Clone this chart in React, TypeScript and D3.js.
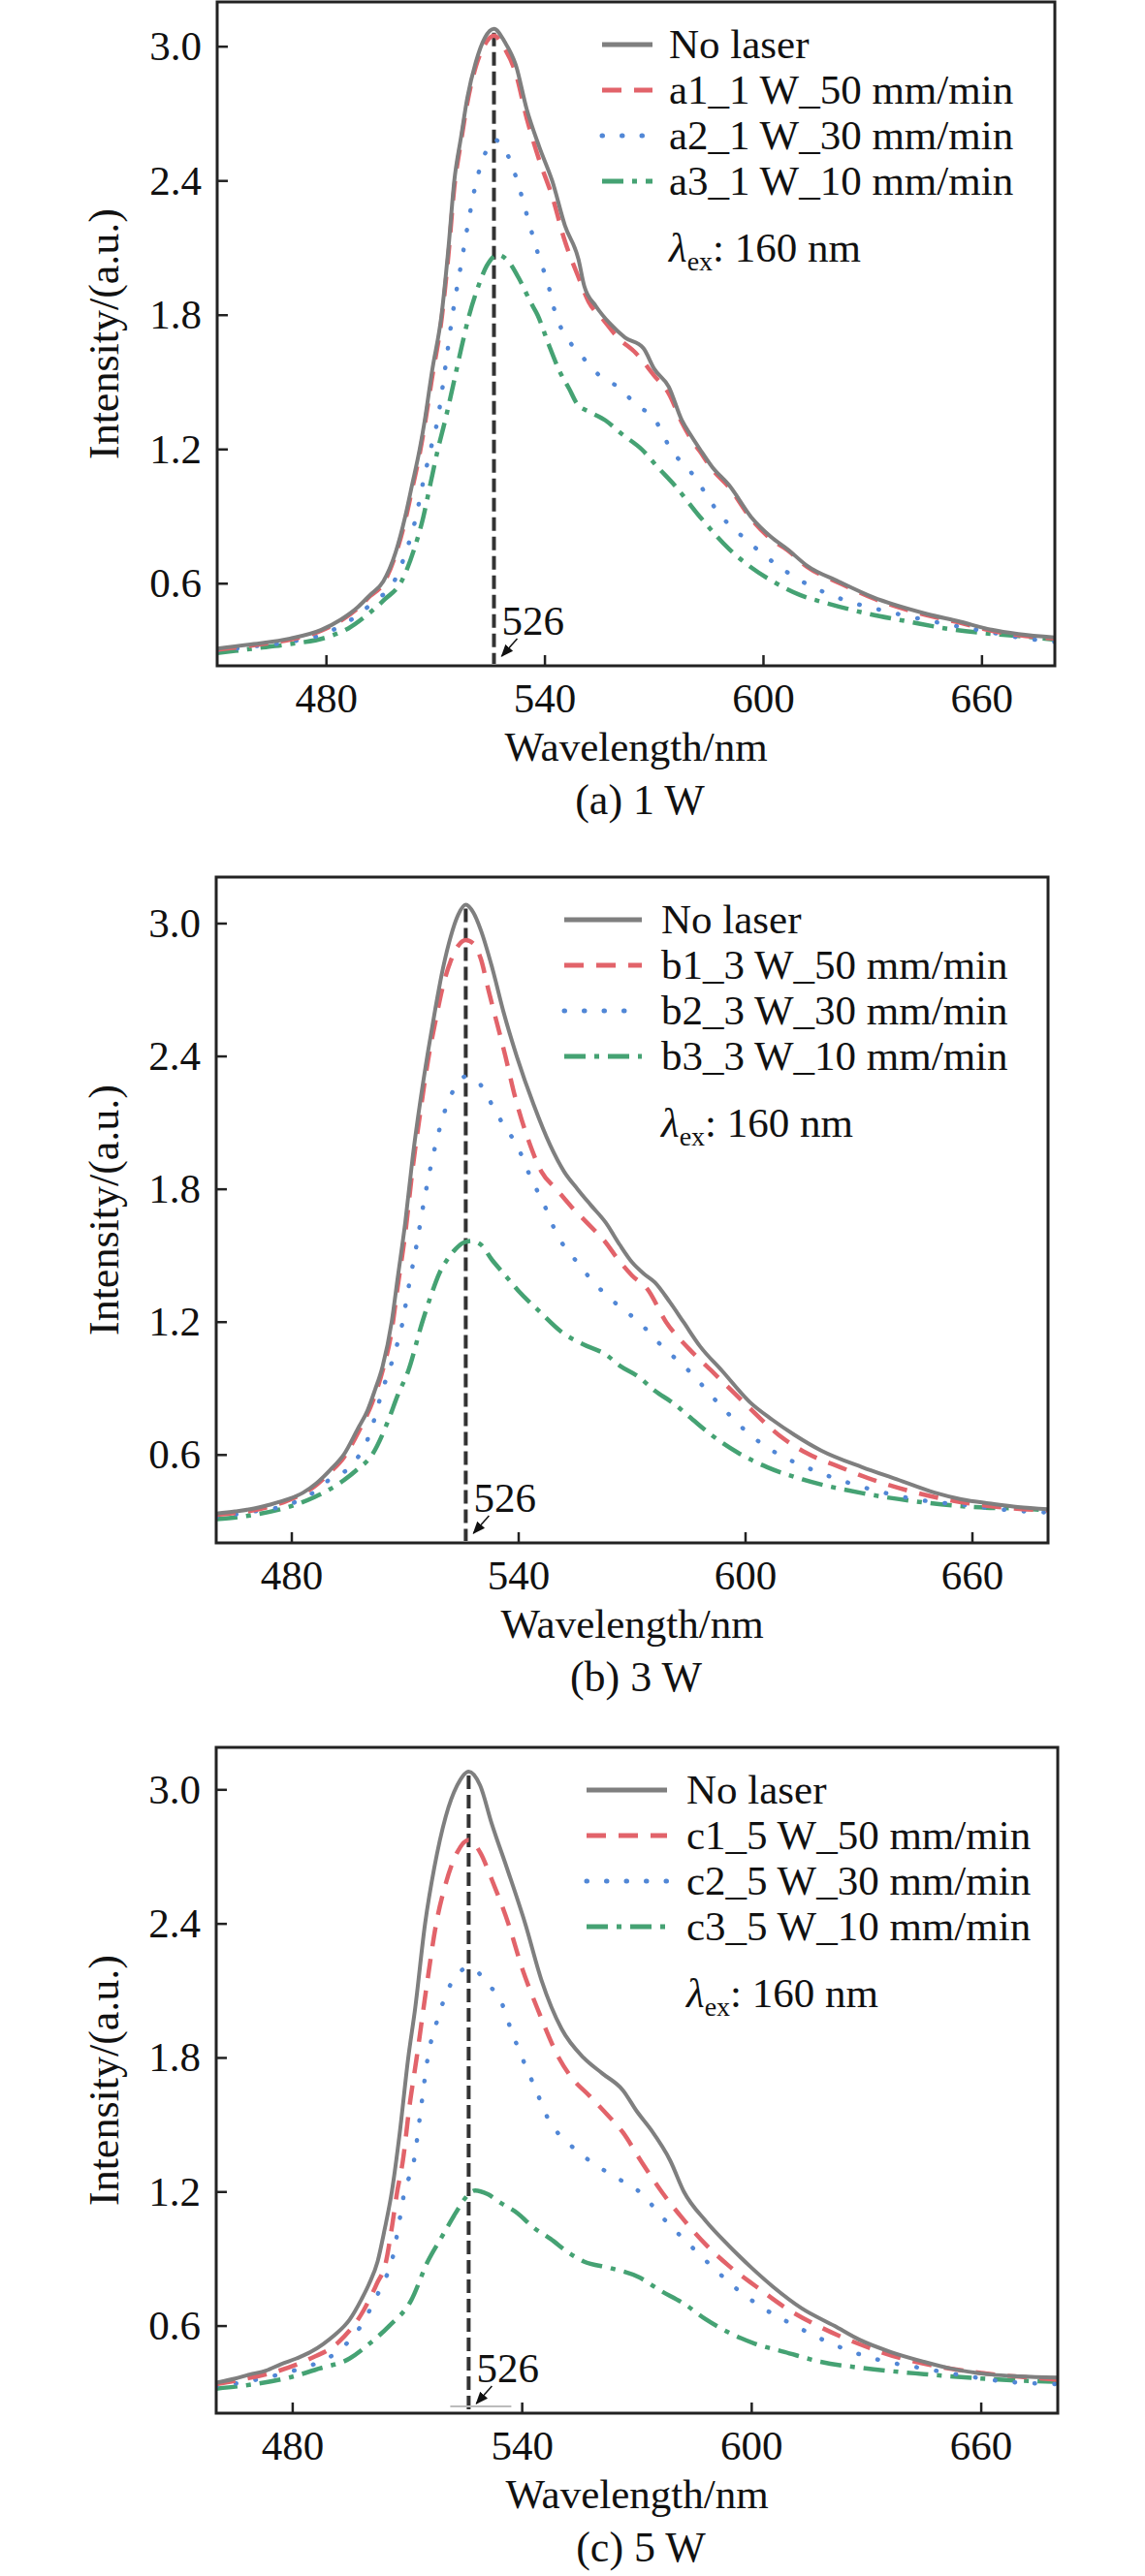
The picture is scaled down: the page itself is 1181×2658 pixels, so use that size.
import { useEffect, useRef } from "react";
import * as d3 from "d3";

type Pt = [number, number];

// tick values shared by the three panels
const xTicks = [480, 540, 600, 660];
const yTicks = [0.6, 1.2, 1.8, 2.4, 3.0];
const peakNm = 526;

// panel (a) 1 W
const aNoLaser: Pt[] = [
  [450, 0.31], [460, 0.33], [470, 0.355], [478.6, 0.394], [484, 0.44], [488.6, 0.495], [492, 0.55],
  [495.6, 0.61], [499, 0.74], [501.6, 0.898], [503.5, 1.04], [505.6, 1.2], [507, 1.33], [509, 1.55],
  [511.6, 1.8], [513.5, 2.1], [515.1, 2.4], [517, 2.6], [518.7, 2.773], [521, 2.93], [523.5, 3.04],
  [526, 3.08], [529, 3.02], [532, 2.918], [535, 2.72], [538.5, 2.55], [542, 2.4], [545.5, 2.2],
  [549.2, 2.05], [550.8, 1.93], [554, 1.84], [558, 1.76], [562, 1.7], [567, 1.653], [570, 1.56],
  [574, 1.48], [577.6, 1.33], [580, 1.265], [582.6, 1.2], [586, 1.12], [590.6, 1.04], [596.6, 0.898],
  [602, 0.81], [606.6, 0.754], [612, 0.68], [620.6, 0.61], [630, 0.54], [644.6, 0.466], [654, 0.43],
  [662.6, 0.394], [670, 0.375], [680, 0.36]
];
const a1: Pt[] = [
  [450, 0.305], [460, 0.325], [470, 0.35], [478.6, 0.39], [484, 0.435], [488.6, 0.49], [492, 0.545],
  [495.6, 0.6], [499, 0.73], [501.6, 0.88], [503.5, 1.02], [505.6, 1.18], [507, 1.31], [509, 1.52],
  [511.6, 1.78], [513.5, 2.07], [515.1, 2.37], [517, 2.58], [518.7, 2.75], [521, 2.91], [523.5, 3.01],
  [526, 3.05], [529, 2.99], [532, 2.88], [535, 2.68], [538.5, 2.49], [542, 2.33], [545.5, 2.13],
  [549.2, 1.97], [552, 1.86], [556, 1.78], [560, 1.7], [565, 1.63], [570, 1.53], [574, 1.45],
  [577.6, 1.32], [580, 1.25], [582.6, 1.19], [586, 1.11], [590.6, 1.03], [596.6, 0.89], [602, 0.8],
  [606.6, 0.75], [612, 0.675], [620.6, 0.605], [630, 0.535], [644.6, 0.46], [654, 0.425], [662.6, 0.39],
  [670, 0.37], [680, 0.355]
];
const a2: Pt[] = [
  [450, 0.3], [460, 0.32], [470, 0.34], [480, 0.38], [488.6, 0.46], [493, 0.52], [498.6, 0.61],
  [502, 0.75], [504.6, 0.898], [506.5, 1.05], [508.6, 1.2], [510.5, 1.33], [512.5, 1.55], [514.6, 1.8],
  [517, 2.03], [519, 2.22], [521.2, 2.4], [523.5, 2.52], [526, 2.585], [529, 2.54], [532.4, 2.4],
  [535, 2.25], [538, 2.08], [541, 1.93], [543, 1.8], [546, 1.7], [549.8, 1.623], [555, 1.53],
  [560.6, 1.473], [565, 1.4], [570, 1.338], [574.6, 1.2], [580, 1.1], [588.6, 0.898], [595, 0.8],
  [600, 0.73], [610.6, 0.61], [620, 0.54], [636.6, 0.466], [650, 0.42], [660, 0.39], [670, 0.36],
  [680, 0.34]
];
const a3: Pt[] = [
  [450, 0.29], [460, 0.31], [470, 0.33], [480, 0.36], [486, 0.4], [491.6, 0.466], [496, 0.53],
  [500.6, 0.61], [504, 0.75], [506.6, 0.898], [508.6, 1.05], [510.6, 1.2], [512.6, 1.33], [514.6, 1.473],
  [517, 1.65], [519.2, 1.8], [521.5, 1.92], [524, 2.02], [527, 2.07], [530, 2.04], [533, 1.96],
  [536, 1.86], [538, 1.8], [541, 1.67], [544, 1.55], [546.6, 1.473], [549, 1.4], [552, 1.37],
  [556.6, 1.33], [561, 1.27], [566.6, 1.2], [571, 1.12], [575.6, 1.04], [582.6, 0.898], [590.6, 0.754],
  [596, 0.68], [602.6, 0.61], [610, 0.55], [618, 0.51], [628.6, 0.466], [640, 0.43], [650, 0.4],
  [660, 0.38], [670, 0.366], [680, 0.35]
];

// panel (b) 3 W
const bNoLaser: Pt[] = [
  [460, 0.335], [465, 0.345], [469, 0.355], [474, 0.375], [479, 0.4], [483, 0.43], [486.5, 0.472],
  [490, 0.53], [493.8, 0.603], [497.5, 0.72], [500, 0.8], [502, 0.894], [504, 1.0], [506.4, 1.2],
  [508, 1.4], [510, 1.65], [512, 1.95], [514, 2.2], [516, 2.42], [518, 2.62], [520, 2.8], [522, 2.94],
  [524, 3.04], [526, 3.085], [528, 3.05], [530, 2.97], [533, 2.8], [536, 2.6], [539.5, 2.4],
  [544, 2.18], [548.3, 2.0], [552, 1.88], [555.6, 1.8], [559, 1.73], [563, 1.65], [566.7, 1.55],
  [570, 1.47], [573, 1.42], [576, 1.38], [580, 1.29], [583.6, 1.2], [588, 1.09], [593.8, 0.98],
  [601.3, 0.836], [607, 0.76], [613, 0.69], [620, 0.62], [630.8, 0.545], [640, 0.49], [650, 0.43],
  [657, 0.4], [665, 0.38], [672, 0.365], [680, 0.355]
];
const b1: Pt[] = [
  [460, 0.33], [470, 0.35], [479, 0.395], [486.5, 0.465], [490, 0.52], [493.8, 0.59], [497.5, 0.7],
  [502, 0.87], [504, 0.98], [506.4, 1.16], [508, 1.36], [510, 1.6], [512, 1.9], [514, 2.15],
  [516, 2.38], [518, 2.56], [520, 2.72], [522, 2.83], [524, 2.9], [526, 2.925], [528, 2.91],
  [530, 2.84], [532, 2.7], [536.5, 2.4], [539, 2.22], [542.4, 2.03], [546, 1.88], [550, 1.8],
  [554, 1.72], [558, 1.65], [563, 1.56], [566, 1.49], [570, 1.41], [574, 1.35], [579, 1.2],
  [585, 1.08], [591, 0.98], [600, 0.83], [608.8, 0.69], [616, 0.61], [625, 0.545], [635, 0.48],
  [645, 0.43], [652.8, 0.4], [662, 0.375], [670, 0.36], [680, 0.35]
];
const b2: Pt[] = [
  [460, 0.32], [470, 0.345], [479, 0.375], [486.5, 0.44], [490, 0.49], [495.3, 0.545], [500.5, 0.69],
  [504, 0.894], [507, 1.05], [509.3, 1.2], [510.8, 1.35], [513, 1.55], [515, 1.75], [518, 2.0],
  [521, 2.18], [524, 2.28], [526, 2.31], [528, 2.3], [530, 2.27], [533, 2.18], [536, 2.09],
  [539.5, 2.0], [543, 1.86], [547, 1.72], [550, 1.6], [555, 1.48], [561.5, 1.35], [566, 1.28],
  [571.8, 1.2], [578, 1.09], [585, 0.98], [593, 0.83], [601.3, 0.69], [608, 0.61], [616, 0.545],
  [630, 0.46], [645, 0.4], [660, 0.37], [670, 0.35], [680, 0.34]
];
const b3: Pt[] = [
  [460, 0.31], [470, 0.33], [480, 0.37], [486, 0.41], [492.4, 0.47], [497, 0.53], [501.2, 0.6],
  [505.6, 0.76], [508, 0.87], [510.8, 0.98], [514.5, 1.2], [517, 1.33], [519, 1.42], [521, 1.48],
  [523.3, 1.53], [525.5, 1.56], [527.5, 1.567], [530, 1.55], [533, 1.48], [536.5, 1.41], [540, 1.34],
  [545.4, 1.25], [551.3, 1.156], [557, 1.1], [563, 1.054], [567, 1.0], [571.8, 0.952], [576, 0.89],
  [580.7, 0.836], [586, 0.76], [591, 0.69], [598, 0.61], [605.7, 0.545], [615, 0.49], [630.8, 0.428],
  [645, 0.39], [660, 0.365], [675, 0.356], [680, 0.35]
];

// panel (c) 5 W
const cNoLaser: Pt[] = [
  [460, 0.347], [465, 0.365], [468.7, 0.383], [473, 0.4], [477, 0.43], [481, 0.455], [484.7, 0.484],
  [488, 0.52], [491, 0.56], [494.9, 0.629], [498, 0.72], [500, 0.79], [502.2, 0.889], [504, 1.03],
  [505.9, 1.2], [508, 1.467], [510.2, 1.8], [512, 2.02], [514.6, 2.4], [517, 2.65], [520, 2.88],
  [523, 3.02], [526, 3.082], [529, 3.02], [532, 2.85], [536, 2.65], [540.8, 2.4], [545, 2.15],
  [550.3, 1.93], [556.1, 1.8], [561, 1.73], [566.3, 1.656], [570, 1.56], [573.6, 1.48], [578.7, 1.34],
  [582.3, 1.2], [588, 1.07], [594, 0.96], [600, 0.86], [605.7, 0.774], [613, 0.68], [621.7, 0.6],
  [628, 0.54], [636.3, 0.484], [645, 0.44], [652, 0.41], [662.6, 0.383], [670, 0.375], [680, 0.369]
];
const c1: Pt[] = [
  [460, 0.34], [468, 0.365], [476, 0.398], [484, 0.45], [492, 0.528], [498.6, 0.672], [502, 0.79],
  [504.4, 0.889], [506, 1.05], [507.3, 1.2], [508.8, 1.34], [510.5, 1.58], [512.4, 1.8], [515, 2.12],
  [517.5, 2.4], [520, 2.58], [523, 2.72], [526, 2.776], [529, 2.72], [532, 2.6], [536.4, 2.4],
  [540, 2.2], [544, 2.02], [549.6, 1.8], [553, 1.71], [557.6, 1.63], [562, 1.55], [566.3, 1.467],
  [571, 1.34], [576.5, 1.2], [582, 1.08], [588.2, 0.961], [594, 0.87], [601.4, 0.774], [609, 0.68],
  [617.4, 0.6], [628, 0.52], [639.2, 0.455], [650, 0.415], [660, 0.39], [672.7, 0.369], [680, 0.36]
];
const c2: Pt[] = [
  [460, 0.33], [468.7, 0.354], [478, 0.39], [484, 0.42], [489.1, 0.455], [494, 0.52], [497.8, 0.6],
  [501, 0.7], [503.5, 0.79], [505.9, 0.889], [507.5, 1.03], [509.2, 1.2], [511.7, 1.34], [513.5, 1.57],
  [515.3, 1.8], [518, 1.98], [521, 2.12], [524, 2.19], [526, 2.205], [528, 2.19], [531, 2.13],
  [534.3, 2.06], [537, 1.93], [540, 1.8], [543.5, 1.66], [547, 1.52], [552, 1.42], [557.6, 1.34],
  [564, 1.27], [570.7, 1.2], [577, 1.08], [583.9, 0.961], [590, 0.86], [595.5, 0.774], [603, 0.68],
  [611.5, 0.6], [621, 0.52], [631.8, 0.455], [645, 0.41], [655, 0.38], [665, 0.354], [680, 0.34]
];
const c3: Pt[] = [
  [460, 0.32], [470, 0.34], [478.9, 0.369], [487, 0.41], [494.9, 0.455], [500, 0.52], [505.2, 0.6],
  [511, 0.716], [515.3, 0.889], [519, 1.0], [522.6, 1.106], [525, 1.17], [527.7, 1.207], [531, 1.19],
  [534.5, 1.15], [538.7, 1.106], [543, 1.04], [547.4, 0.99], [552, 0.93], [556.1, 0.889], [563, 0.86],
  [570.7, 0.817], [576, 0.76], [582.3, 0.7], [588, 0.63], [594, 0.571], [601, 0.52], [608.6, 0.484],
  [618, 0.44], [629, 0.412], [645, 0.385], [660, 0.365], [672.7, 0.354], [680, 0.35]
];

const legendA = ["No laser", "a1_1 W_50 mm/min", "a2_1 W_30 mm/min", "a3_1 W_10 mm/min"];
const legendB = ["No laser", "b1_3 W_50 mm/min", "b2_3 W_30 mm/min", "b3_3 W_10 mm/min"];
const legendC = ["No laser", "c1_5 W_50 mm/min", "c2_5 W_30 mm/min", "c3_5 W_10 mm/min"];
const captions = ["(a) 1 W", "(b) 3 W", "(c) 5 W"];

const styles = [
  { color: "#7f7f7f", dash: null as string | null, cap: "butt" },
  { color: "#e2636a", dash: "20 13", cap: "butt" },
  { color: "#5187d6", dash: "0.5 20", cap: "round" },
  { color: "#45a273", dash: "22 9 5 9", cap: "butt" }
];

const FONT = "Liberation Serif, Times New Roman, DejaVu Serif, serif";

const panels = [
  { series: [aNoLaser, a1, a2, a3], legend: legendA, caption: captions[0],
    top: 2, bottom: 687, left: 224, right: 1088, xDom: [450, 680], yDom: [0.233, 3.2],
    legX0: 621, legX1: 673, legText: 690, baseSeg: false },
  { series: [bNoLaser, b1, b2, b3], legend: legendB, caption: captions[1],
    top: 905, bottom: 1592, left: 223, right: 1081, xDom: [460, 680], yDom: [0.203, 3.21],
    legX0: 582, legX1: 662, legText: 682, baseSeg: false },
  { series: [cNoLaser, c1, c2, c3], legend: legendC, caption: captions[2],
    top: 1803, bottom: 2490, left: 223, right: 1091, xDom: [460, 680], yDom: [0.21, 3.19],
    legX0: 605, legX1: 688, legText: 708, baseSeg: true }
];

const App = () => {
  const svgRef = useRef<SVGSVGElement | null>(null);

  useEffect(() => {
    const svg = d3.select(svgRef.current);
    svg.selectAll("*").remove();

    const defs = svg.append("defs");
    defs.append("marker")
      .attr("id", "arrowHead")
      .attr("viewBox", "0 0 10 10")
      .attr("refX", 9)
      .attr("refY", 5)
      .attr("markerUnits", "userSpaceOnUse")
      .attr("markerWidth", 13)
      .attr("markerHeight", 13)
      .attr("orient", "auto")
      .append("path")
      .attr("d", "M0,1 L10,5 L0,9 Z")
      .attr("fill", "#111");

    panels.forEach((p, pi) => {
      const x = d3.scaleLinear().domain(p.xDom).range([p.left, p.right]);
      const y = d3.scaleLinear().domain(p.yDom).range([p.bottom, p.top]);
      const g = svg.append("g").style("font-family", FONT).attr("fill", "#111");

      const clipId = `clip${pi}`;
      defs.append("clipPath").attr("id", clipId)
        .append("rect")
        .attr("x", p.left).attr("y", p.top)
        .attr("width", p.right - p.left).attr("height", p.bottom - p.top);

      // curves
      const line = d3.line<Pt>()
        .x(d => x(d[0]))
        .y(d => y(d[1]))
        .curve(d3.curveMonotoneX);

      const curves = g.append("g").attr("clip-path", `url(#${clipId})`);

      // peak marker line
      const peakY = d3.max(p.series[0], d => d[1]) ?? 3;
      curves.append("line")
        .attr("x1", x(peakNm)).attr("x2", x(peakNm))
        .attr("y1", y(peakY) + 4).attr("y2", p.bottom - 2)
        .attr("stroke", "#333")
        .attr("stroke-width", 4)
        .attr("stroke-dasharray", "14 6");

      // draw no-laser last so it sits on top like the reference
      [3, 2, 1, 0].forEach(si => {
        const st = styles[si];
        curves.append("path")
          .datum(p.series[si])
          .attr("d", line)
          .attr("fill", "none")
          .attr("stroke", st.color)
          .attr("stroke-width", si === 0 ? 4 : 4.5)
          .attr("stroke-linecap", st.cap)
          .attr("stroke-dasharray", st.dash);
      });

      if (p.baseSeg) {
        g.append("line")
          .attr("x1", x(peakNm) - 19).attr("x2", x(peakNm) + 44)
          .attr("y1", p.bottom - 7).attr("y2", p.bottom - 7)
          .attr("stroke", "#bbb").attr("stroke-width", 2);
      }

      // frame
      g.append("rect")
        .attr("x", p.left).attr("y", p.top)
        .attr("width", p.right - p.left).attr("height", p.bottom - p.top)
        .attr("fill", "none").attr("stroke", "#222").attr("stroke-width", 3);

      // ticks (inward)
      g.selectAll(null).data(xTicks).enter().append("line")
        .attr("x1", d => x(d)).attr("x2", d => x(d))
        .attr("y1", p.bottom).attr("y2", p.bottom - 11)
        .attr("stroke", "#222").attr("stroke-width", 2.5);
      g.selectAll(null).data(yTicks).enter().append("line")
        .attr("x1", p.left).attr("x2", p.left + 11)
        .attr("y1", d => y(d)).attr("y2", d => y(d))
        .attr("stroke", "#222").attr("stroke-width", 2.5);

      g.selectAll(null).data(xTicks).enter().append("text")
        .attr("x", d => x(d)).attr("y", p.bottom + 48)
        .attr("text-anchor", "middle").attr("font-size", 43)
        .text(d => String(d));
      g.selectAll(null).data(yTicks).enter().append("text")
        .attr("x", p.left - 16).attr("y", d => y(d) + 14)
        .attr("text-anchor", "end").attr("font-size", 43)
        .text(d => d.toFixed(1));

      // axis titles & caption
      const cx = (p.left + p.right) / 2;
      g.append("text")
        .attr("x", cx).attr("y", p.bottom + 98)
        .attr("text-anchor", "middle").attr("font-size", 43)
        .text("Wavelength/nm");
      g.append("text")
        .attr("transform", `translate(122,${(p.top + p.bottom) / 2}) rotate(-90)`)
        .attr("text-anchor", "middle").attr("font-size", 44)
        .text("Intensity/(a.u.)");
      g.append("text")
        .attr("x", cx + 4).attr("y", p.bottom + 153)
        .attr("text-anchor", "middle").attr("font-size", 44)
        .text(p.caption);

      // 526 annotation
      const px = x(peakNm);
      g.append("text")
        .attr("x", px + 8).attr("y", p.bottom - 32)
        .attr("font-size", 43)
        .text(String(peakNm));
      g.append("line")
        .attr("x1", px + 24).attr("y1", p.bottom - 28)
        .attr("x2", px + 8).attr("y2", p.bottom - 10)
        .attr("stroke", "#111").attr("stroke-width", 1.5)
        .attr("marker-end", "url(#arrowHead)");

      // legend
      const base0 = p.top + 58;
      p.legend.forEach((label, i) => {
        const by = base0 + i * 47;
        const st = styles[i];
        g.append("line")
          .attr("x1", p.legX0).attr("x2", p.legX1)
          .attr("y1", by - 14).attr("y2", by - 14)
          .attr("stroke", st.color).attr("stroke-width", 5)
          .attr("stroke-linecap", st.cap)
          .attr("stroke-dasharray", st.dash);
        g.append("text")
          .attr("x", p.legText).attr("y", by)
          .attr("font-size", 43)
          .text(label);
      });
      const lam = g.append("text")
        .attr("x", p.legText).attr("y", base0 + 210)
        .attr("font-size", 43);
      lam.append("tspan").attr("font-style", "italic").text("λ");
      lam.append("tspan").attr("font-size", 28).attr("dy", 9).text("ex");
      lam.append("tspan").attr("dy", -9).text(": 160 nm");
    });
  }, []);

  return (
    <svg
      ref={svgRef}
      width={1181}
      height={2658}
      style={{ position: "absolute", left: 0, top: 0, background: "#fff", fontFamily: FONT }}
    />
  );
};

export default App;
